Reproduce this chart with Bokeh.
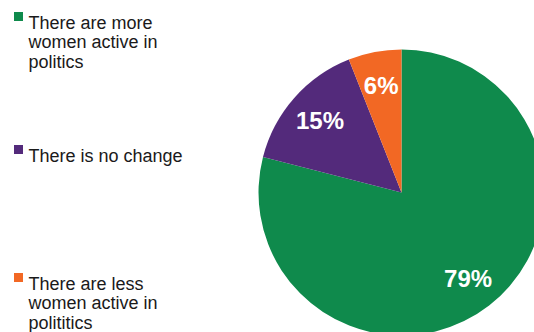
import math

from bokeh.core.properties import value
from bokeh.embed import file_html
from bokeh.models import ColumnDataSource, Range1d
from bokeh.plotting import figure
from bokeh.resources import INLINE

# Survey answers and their shares (percent)
categories = [
    "There are more women active in politics",
    "There is no change",
    "There are less women active in polititics",
]
shares = [79, 15, 6]
colors = ["#0F8A4C", "#532A7B", "#F26824"]
legend_lines = [
    ["There are more", "women active in", "politics"],
    ["There is no change"],
    ["There are less", "women active in", "polititics"],
]

W, H = 534, 332
FONT = "Liberation Sans"

p = figure(width=W, height=H, output_backend="svg", toolbar_location=None,
           x_range=Range1d(0, W), y_range=Range1d(H, 0),
           min_border=0, outline_line_color=None)
p.axis.visible = False
p.grid.visible = False
p.background_fill_color = "white"
p.border_fill_color = "white"

# Pie geometry (screen coordinates, y grows downward)
cx, cy, R = 401, 192, 143

# Slices run clockwise from 12 o'clock (angles in the usual y-up sense)
total = float(sum(shares))
starts, ends, mids = [], [], []
acc = 0.0
for s in shares:
    a0 = math.pi / 2 - 2 * math.pi * acc / total
    acc += s
    a1 = math.pi / 2 - 2 * math.pi * acc / total
    starts.append(a0)
    ends.append(a1)
    mids.append((a0 + a1) / 2)

src = ColumnDataSource(dict(start=starts, end=ends, color=colors))
p.wedge(x=cx, y=cy, radius=R, start_angle="start", end_angle="end",
        direction="clock", fill_color="color", line_color=None,
        source=src)

# Percentage labels inside the slices
lr = 0.76 * R
lab = ColumnDataSource(dict(
    x=[cx + lr * math.cos(m) for m in mids],
    y=[cy - lr * math.sin(m) for m in mids],
    t=[f"{s}%" for s in shares],
))
p.text(x="x", y="y", text="t", source=lab, text_color="white",
       text_font=value(FONT), text_font_style="bold",
       text_font_size="24px", text_align="center",
       text_baseline="middle")

# Legend on the left: colored squares with wrapped labels
first_baselines = [22, 155, 283]
line_step = 19.5
sq_x, sq_size = 18, 9
for i, lines in enumerate(legend_lines):
    b = first_baselines[i]
    p.rect(x=sq_x, y=b - 6, width=sq_size, height=sq_size,
           fill_color=colors[i], line_color=None)
    p.text(x=[28] * len(lines),
           y=[b + k * line_step for k in range(len(lines))],
           text=lines, text_color="#1A1A1A", text_font=value(FONT),
           text_font_size="18px", text_align="left",
           text_baseline="alphabetic")

open("out.html", "w").write(file_html(p, INLINE))
